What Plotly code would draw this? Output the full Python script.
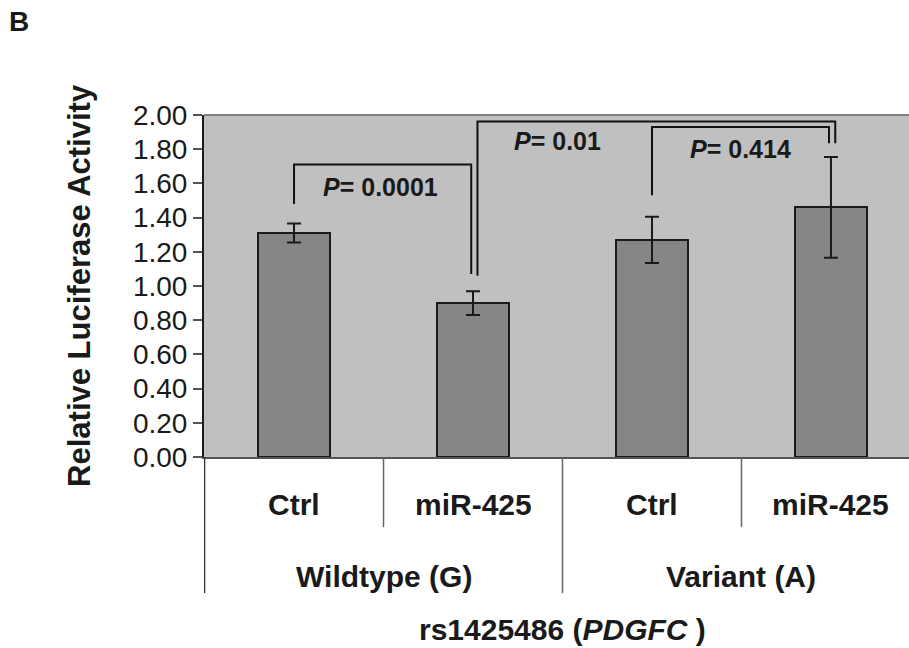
import plotly.graph_objects as go

# ---- data ----
categories = ["Ctrl", "miR-425", "Ctrl", "miR-425"]
groups = ["Wildtype (G)", "Variant (A)"]
values = [1.31, 0.90, 1.27, 1.46]
errors = [0.055, 0.07, 0.135, 0.295]
y_ticks = [0.0, 0.2, 0.4, 0.6, 0.8, 1.0, 1.2, 1.4, 1.6, 1.8, 2.0]

# significance brackets (x in category index units, y in data units)
br1_x = [0, 0, 0.99, 0.99]
br1_y = [1.48, 1.71, 1.71, 1.07]
br2_x = [1.025, 1.025, 3.024, 3.024]
br2_y = [1.06, 1.962, 1.962, 1.835]
br3_x = [2.0, 2.0, 2.989, 2.989]
br3_y = [1.53, 1.93, 1.93, 1.835]
p_labels = ["0.0001", "0.01", "0.414"]
p_x = [0.485, 1.472, 2.496]
p_y = [1.579, 1.849, 1.80]

FONT = "Liberation Sans, Arial, sans-serif"
TXT = "#1a1a1a"

xpos = list(range(len(values)))

fig = go.Figure()
fig.add_trace(go.Bar(
    x=xpos, y=values, width=0.405,
    marker=dict(color="#868686", line=dict(color="#1a1a1a", width=2)),
    error_y=dict(type="data", array=errors, visible=True,
                 color="#1a1a1a", thickness=2, width=7),
    showlegend=False, hoverinfo="skip",
))
for bx, by in [(br1_x, br1_y), (br2_x, br2_y), (br3_x, br3_y)]:
    fig.add_trace(go.Scatter(x=bx, y=by, mode="lines",
                             line=dict(color="#111111", width=2),
                             showlegend=False, hoverinfo="skip"))

annotations = []
for lab, px, py in zip(p_labels, p_x, p_y):
    annotations.append(dict(x=px, y=py, xref="x", yref="y",
                            text=f"<b><i>P</i>= {lab}</b>", showarrow=False,
                            font=dict(family=FONT, size=25, color=TXT),
                            xanchor="center", yanchor="middle"))
# category labels
for i, c in enumerate(categories):
    annotations.append(dict(x=i, y=-0.14, xref="x", yref="paper",
                            text=f"<b>{c}</b>", showarrow=False,
                            font=dict(family=FONT, size=30, color=TXT),
                            xanchor="center", yanchor="middle"))
for gi, g in enumerate(groups):
    annotations.append(dict(x=0.5 + 2 * gi, y=-0.35, xref="x", yref="paper",
                            text=f"<b>{g}</b>", showarrow=False,
                            font=dict(family=FONT, size=30, color=TXT),
                            xanchor="center", yanchor="middle"))
annotations.append(dict(x=1.5, y=-0.503, xref="x", yref="paper",
                        text="<b>rs1425486 (<i>PDGFC</i> )</b>", showarrow=False,
                        font=dict(family=FONT, size=30, color=TXT),
                        xanchor="center", yanchor="middle"))
annotations.append(dict(x=-0.176, y=0.503, xref="paper", yref="paper",
                        text="<b>Relative Luciferase Activity</b>", showarrow=False,
                        textangle=-90,
                        font=dict(family=FONT, size=31, color=TXT),
                        xanchor="center", yanchor="middle"))
annotations.append(dict(x=-0.262, y=1.272, xref="paper", yref="paper",
                        text="<b>B</b>", showarrow=False,
                        font=dict(family=FONT, size=28, color=TXT),
                        xanchor="center", yanchor="middle"))

shapes = []
# top border of plot area
shapes.append(dict(type="line", xref="paper", yref="paper", x0=0, x1=1, y0=1, y1=1,
                   line=dict(color="#808080", width=2)))
# divider lines below axis
for xv, y1 in [(-0.5, -0.398), (0.5, -0.205), (1.5, -0.398), (2.5, -0.205)]:
    shapes.append(dict(type="line", xref="x", yref="paper", x0=xv, x1=xv,
                       y0=0, y1=y1, line=dict(color="#333333" if xv == -0.5 else "#666666", width=1.5)))

fig.update_layout(
    width=909, height=648,
    margin=dict(l=204, r=0, t=115, b=191),
    paper_bgcolor="white", plot_bgcolor="#c0c0c0",
    bargap=0,
    xaxis=dict(range=[-0.503, 3.436], showticklabels=False, ticks="",
               showgrid=False, zeroline=False, showline=True,
               linecolor="#555555", linewidth=1.5),
    yaxis=dict(range=[0, 2], tickvals=y_ticks, tickformat=".2f",
               ticks="outside", ticklen=9, tickcolor="#555555", tickwidth=1.5,
               showgrid=False, zeroline=False, showline=True,
               linecolor="#1a1a1a", linewidth=2,
               tickfont=dict(family=FONT, size=28, color=TXT)),
    annotations=annotations, shapes=shapes,
)

fig.write_html("out.html", config={"displayModeBar": False},
               post_script="document.body.style.margin='0';document.body.style.padding='0';")
